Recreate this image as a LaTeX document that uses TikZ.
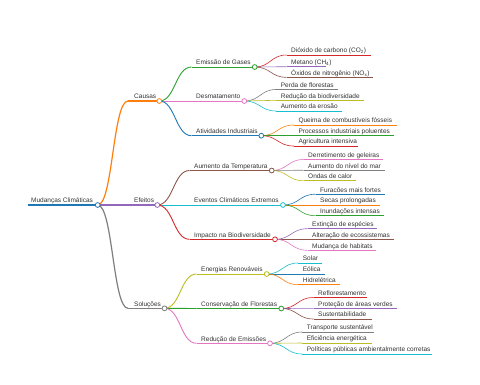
\documentclass[tikz,border=0pt]{standalone}
\usepackage{fontspec}
\setmainfont{Liberation Sans}
\usetikzlibrary{calc}
\definecolor{cblue}{HTML}{1F77B4}
\definecolor{corange}{HTML}{FF7F0E}
\definecolor{cgreen}{HTML}{2CA02C}
\definecolor{cred}{HTML}{D62728}
\definecolor{cpurple}{HTML}{9467BD}
\definecolor{cbrown}{HTML}{8C564B}
\definecolor{cpink}{HTML}{E377C2}
\definecolor{cgray}{HTML}{7F7F7F}
\definecolor{colive}{HTML}{BCBD22}
\definecolor{ccyan}{HTML}{17BECF}
\tikzset{
  mmtext/.style={anchor=base west, inner sep=0pt, font=\fontsize{6.5}{7}\selectfont, text=black!80},
  mmcircle/.style={line width=0.8pt, fill=white}
}
% name, color, width, startx, y, endx, textx, text
\newcommand\mmline[8]{%
  \coordinate (#1-s) at (#4,#5);
  \coordinate (#1-e) at (#6,#5);
  \node[mmtext] (#1) at (#7,#5-2.2) {#8};
  \draw[#2, line width=#3] (#1-s) -- (#1-e);}
% color, width, from, to
\newcommand\mmlink[4]{%
  \draw[#1, line width=#2] let \p1=(#3-e), \p2=(#4-s) in
    (\p1) .. controls ({0.5*\x1+0.5*\x2},\y1) and ({0.5*\x1+0.5*\x2},\y2) .. (\p2);}
\newcommand\mmcirc[2]{\draw[#2, mmcircle] (#1-e) circle[radius=2.4pt];}
% child: name parent color width startx y endx textx text
\newcommand\mmchild[9]{\mmline{#1}{#3}{#4}{#5}{#6}{#7}{#8}{#9}\mmlink{#3}{#4}{#2}{#1}}
\begin{document}
\begin{tikzpicture}[x=1pt,y=-1pt]
\useasboundingbox[fill=white] (0,0) rectangle (480,384);
% root
\mmline{root}{cblue}{1.6pt}{27.7}{205}{97.7}{31}{Mudanças Climáticas}
% level 1
\mmchild{causas}{root}{corange}{1.2pt}{128}{101}{159.3}{134}{Causas}
\mmchild{efeitos}{root}{cpurple}{1.2pt}{128}{205}{157.3}{134}{Efeitos}
\mmchild{solucoes}{root}{cgray}{1.2pt}{128}{308.3}{164.5}{134}{Soluções}
% level 2
\mmchild{emissao}{causas}{cgreen}{0.9pt}{191.5}{67}{254.7}{196}{Emissão de Gases}
\mmchild{desmat}{causas}{cpink}{0.9pt}{191.5}{101}{244.3}{196}{Desmatamento}
\mmchild{ativ}{causas}{cblue}{0.9pt}{191.5}{135.7}{261.3}{196}{Atividades Industriais}
\mmchild{temp}{efeitos}{cbrown}{0.9pt}{189.5}{170.5}{271.7}{194}{Aumento da Temperatura}
\mmchild{eventos}{efeitos}{ccyan}{0.9pt}{189.5}{205}{283}{194}{Eventos Climáticos Extremos}
\mmchild{impacto}{efeitos}{cred}{0.9pt}{189.5}{239.3}{275}{194}{Impacto na Biodiversidade}
\mmchild{energias}{solucoes}{colive}{0.9pt}{196.5}{274}{266.7}{201}{Energias Renováveis}
\mmchild{conserv}{solucoes}{cgreen}{0.9pt}{196.5}{308.5}{281.3}{201}{Conservação de Florestas}
\mmchild{reducao}{solucoes}{cpink}{0.9pt}{196.5}{343.3}{270}{201}{Redução de Emissões}
% level 3
\mmchild{co2}{emissao}{cred}{0.6pt}{286.5}{55}{370.7}{291}{Dióxido de carbono (CO\textsubscript{2})}
\mmchild{ch4}{emissao}{cpurple}{0.6pt}{286.5}{66.7}{326}{291}{Metano (CH\textsubscript{4})}
\mmchild{nox}{emissao}{cbrown}{0.6pt}{286.5}{77.3}{373}{291}{Óxidos de nitrogênio (NO\textsubscript{x})}
\mmchild{perda}{desmat}{cgray}{0.6pt}{276.2}{89.5}{338}{280.7}{Perda de florestas}
\mmchild{redbio}{desmat}{colive}{0.6pt}{276.2}{100.3}{364}{280.7}{Redução da biodiversidade}
\mmchild{erosao}{desmat}{ccyan}{0.6pt}{276.2}{111}{342}{280.7}{Aumento da erosão}
\mmchild{queima}{ativ}{corange}{0.6pt}{293.8}{125}{396.7}{298.3}{Queima de combustíveis fósseis}
\mmchild{processos}{ativ}{cgreen}{0.6pt}{293.8}{135.7}{394}{298.3}{Processos industriais poluentes}
\mmchild{agri}{ativ}{cred}{0.6pt}{293.8}{146}{358}{298.3}{Agricultura intensiva}
\mmchild{derret}{temp}{cpink}{0.6pt}{303.5}{159.5}{382.7}{308}{Derretimento de geleiras}
\mmchild{nivel}{temp}{cgray}{0.6pt}{303.5}{170.2}{385}{308}{Aumento do nível do mar}
\mmchild{ondas}{temp}{colive}{0.6pt}{303.5}{180.7}{356}{308}{Ondas de calor}
\mmchild{furacoes}{eventos}{cblue}{0.6pt}{315.5}{194.2}{385.3}{320}{Furacões mais fortes}
\mmchild{secas}{eventos}{corange}{0.6pt}{315.5}{205}{380}{320}{Secas prolongadas}
\mmchild{inund}{eventos}{cgreen}{0.6pt}{315.5}{215.7}{384}{320}{Inundações intensas}
\mmchild{extincao}{impacto}{cpurple}{0.6pt}{307.5}{228.7}{376.7}{312}{Extinção de espécies}
\mmchild{alter}{impacto}{cbrown}{0.6pt}{307.5}{239.3}{394}{312}{Alteração de ecossistemas}
\mmchild{mudanca}{impacto}{cpink}{0.6pt}{307.5}{250.3}{376}{312}{Mudança de habitats}
\mmchild{solar}{energias}{ccyan}{0.6pt}{298.2}{263}{321.7}{302.7}{Solar}
\mmchild{eolica}{energias}{cblue}{0.6pt}{298.2}{274}{325}{302.7}{Eólica}
\mmchild{hidro}{energias}{corange}{0.6pt}{298.2}{284.7}{340}{302.7}{Hidrelétrica}
\mmchild{reflo}{conserv}{cred}{0.6pt}{313.5}{297.5}{366.7}{318}{Reflorestamento}
\mmchild{protecao}{conserv}{cpurple}{0.6pt}{313.5}{308.3}{397.3}{318}{Proteção de áreas verdes}
\mmchild{sust}{conserv}{cbrown}{0.6pt}{313.5}{319}{371.7}{318}{Sustentabilidade}
\mmchild{transp}{reducao}{cgray}{0.6pt}{302.2}{332}{374}{306.7}{Transporte sustentável}
\mmchild{efic}{reducao}{colive}{0.6pt}{302.2}{343}{372.3}{306.7}{Eficiência energética}
\mmchild{politicas}{reducao}{ccyan}{0.6pt}{302.2}{354}{432.3}{306.7}{Políticas públicas ambientalmente corretas}
% circles
\mmcirc{root}{cblue}
\mmcirc{causas}{corange}
\mmcirc{efeitos}{cpurple}
\mmcirc{solucoes}{cgray}
\mmcirc{emissao}{cgreen}
\mmcirc{desmat}{cpink}
\mmcirc{ativ}{cblue}
\mmcirc{temp}{cbrown}
\mmcirc{eventos}{ccyan}
\mmcirc{impacto}{cred}
\mmcirc{energias}{colive}
\mmcirc{conserv}{cgreen}
\mmcirc{reducao}{cpink}
\end{tikzpicture}
\end{document}
